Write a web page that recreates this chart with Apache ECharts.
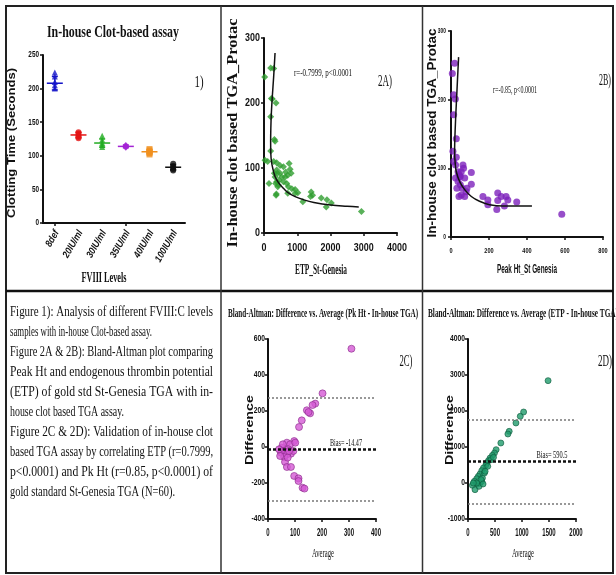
<!DOCTYPE html>
<html><head><meta charset="utf-8">
<script src="https://cdn.jsdelivr.net/npm/echarts@6/dist/echarts.min.js"></script>
<style>html,body{margin:0;padding:0;background:#fff}#c{width:616px;height:575px}</style>
</head><body><div id="c"></div>
<script>
// ---------- DATA ----------
const fviiiLevels = ['8def', '20IU/ml', '30IU/ml', '35IU/ml', '40IU/ml', '100IU/ml'];
const clot8def = [224, 218, 210, 205, 200];
const clot20 = [135, 133, 130, 128, 126];
const clot30 = [130, 124, 119, 116, 113];
const clot35 = [116, 115, 114, 113, 112];
const clot40 = [110, 108, 106, 104, 102];
const clot100 = [88, 85, 83, 80, 78];
const clotMean = [208, 131, 119, 114, 106, 83];
const clotSD = [10, 4, 6, 2, 3, 4];
const ticksY1 = [0, 50, 100, 150, 200, 250];

const etpA = [20,201,292,221,252,362,201,312,332,201,30,111,292,382,483,151,372,312,403,332,382,433,453,655,715,755,786,816,634,685,735,715,836,937,1017,1168,1420,1460,1400,1722,1893,1873,2024,2930,382,534,584,584,352,413,483,362,937];
const protA = [240,254,253,207,206,200,179,144,141,126,112,110,110,108,104,76,60,92,92,86,79,74,81,94,89,107,98,92,86,76,71,61,68,67,62,48,63,58,56,54,51,40,46,33,97,86,79,102,76,71,92,58,61];
const fitAx = [332, 290, 250, 222, 205, 200, 205, 225, 262, 332, 430, 560, 700, 937, 1200, 1500, 2000, 2500, 2850];
const fitAy = [277, 240, 210, 185, 160, 140, 122, 110, 100, 87, 78, 70, 63, 56, 51, 47, 43, 41, 40];
const ticksX2A = [0, 1000, 2000, 3000, 4000];
const ticksY2A = [0, 100, 200, 300];

const peakB = [7,19,14,23,14,28,10,14,24,37,45,54,63,66,107,37,49,59,42,54,72,84,107,168,194,194,246,264,246,290,299,281,241,346,583,31,24,49,72,28,42,80];
const protB = [238,253,207,201,178,143,125,110,105,95,88,95,105,100,94,81,76,71,59,61,59,71,77,59,54,47,64,59,53,59,54,45,40,51,33,71,86,88,86,116,91,66];
const fitBx = [40, 31, 23, 19, 22, 28, 45, 72, 107, 150, 203, 273, 342, 426];
const fitBy = [262, 211, 163, 124, 108, 95, 81, 69, 59, 52, 47, 45, 45, 45];
const ticksX2B = [0, 200, 400, 600, 800];
const ticksY2B = [0, 100, 200, 300];

const avgC = [309,202,175,165,156,144,150,125,115,97,70,82,51,57,48,63,75,85,70,60,63,70,85,97,113,113,128,135,45,55,94,41,73,101,78];
const diffC = [546,298,241,233,187,204,194,148,111,33,24,15,-4,-19,-31,-22,-13,-37,-41,-56,-83,-111,-111,-161,-174,-189,-226,-231,-50,15,-22,-13,-59,24,-22];
const biasC = -14.47, upperC = 272, lowerC = -301;
const ticksX2C = [0, 100, 200, 300, 400];
const ticksY2C = [-400, -200, 0, 200, 400, 600];

const avgD = [1483,1030,968,888,763,739,608,521,490,453,410,379,348,329,286,255,223,192,161,118,81,130,223,255,174,205,267,242,304,428,472,366,317,161,99,279];
const diffD = [2843,1972,1852,1667,1435,1361,1111,926,833,769,694,620,556,491,417,343,250,185,120,46,-65,-185,0,46,-28,-93,139,93,278,648,713,463,324,0,0,-28];
const biasD = 590.5, upperD = 1765, lowerD = -585;
const ticksX2D = [0, 500, 1000, 1500, 2000];
const ticksY2D = [-1000, 0, 1000, 2000, 3000, 4000];

const captionLines = [
  'Figure 1): Analysis of different FVIII:C levels',
  'samples with in-house Clot-based assay.',
  'Figure 2A & 2B): Bland-Altman plot comparing',
  'Peak Ht and endogenous thrombin potential',
  '(ETP) of gold std St-Genesia TGA with in-',
  'house clot based TGA assay.',
  'Figure 2C & 2D): Validation of in-house clot',
  'based TGA assay by correlating ETP (r=0.7999,',
  'p<0.0001) and Pk Ht (r=0.85, p<0.0001) of',
  'gold standard St-Genesia TGA (N=60).'
];

// ---------- STYLE / LAYOUT ----------
const SERIF = '"Liberation Serif", "DejaVu Serif", serif';
const SANS = '"Liberation Sans", Arial, sans-serif';
const clotColors = ['#1414c8', '#e41414', '#22ac22', '#a424d4', '#f0901e', '#111111'];
const clotSymbols = ['triangle', 'circle', 'triangle', 'diamond', 'rect', 'circle'];
const clotGroups = [clot8def, clot20, clot30, clot35, clot40, clot100];

const mctx = document.createElement('canvas').getContext('2d');
function txt(str, font, x, y, w, o) {
  o = o || {};
  mctx.font = font;
  const mw = mctx.measureText(str).width;
  const s = w ? w / mw : 1;
  const align = o.align || 'center';
  return { type: 'text', x: x, y: y, rotation: o.rot || 0, scaleX: s, scaleY: 1, z: 100,
    style: { text: str, font: font, fill: o.color || '#111', align: align, verticalAlign: 'middle',
             textAlign: align, textVerticalAlign: 'middle' } };
}
const ROT = Math.PI / 2;

function vAxis(gi, ticks) {
  return {
    type: 'value', gridIndex: gi, min: ticks[0], max: ticks[ticks.length - 1], interval: ticks[1] - ticks[0],
    axisLine: { show: true, onZero: false, lineStyle: { color: '#111', width: 2 } },
    axisTick: { show: true, length: 3, lineStyle: { color: '#111', width: 1.5 } },
    axisLabel: { show: false },
    splitLine: { show: false }
  };
}
// tick labels positioned through the axes' own coordinate mapping, drawn with condensed scaling
function tickSeries(gi, ticks, other, isX, o) {
  return { type: 'custom', xAxisIndex: gi, yAxisIndex: gi, silent: true, z: 10,
    data: ticks.map(function (v) { return isX ? [v, other] : [other, v]; }),
    encode: { x: 0, y: 1 },
    renderItem: function (params, api) {
      const cs = params.coordSys;
      const p = api.coord([api.value(0), api.value(1)]);
      const v = isX ? api.value(0) : api.value(1);
      const al = isX ? 'center' : 'right', va = isX ? 'top' : 'middle';
      return { type: 'text', x: isX ? p[0] : cs.x - o.margin, y: isX ? cs.y + cs.height + o.margin : p[1], scaleX: o.scale,
        style: { text: String(v), font: o.font, fill: '#111', align: al, verticalAlign: va, textAlign: al, textVerticalAlign: va } };
    } };
}

const graphics = [];
graphics.push({ type: 'rect', shape: { x: 6, y: 6, width: 607, height: 567 }, style: { fill: 'none', stroke: '#222', lineWidth: 2 }, z: 50 });
graphics.push({ type: 'line', shape: { x1: 6, y1: 291, x2: 613, y2: 291 }, style: { stroke: '#111', lineWidth: 2.5 }, z: 50 });
graphics.push({ type: 'line', shape: { x1: 221, y1: 6, x2: 221, y2: 573 }, style: { stroke: '#333', lineWidth: 1.5 }, z: 50 });
graphics.push({ type: 'line', shape: { x1: 422.5, y1: 6, x2: 422.5, y2: 573 }, style: { stroke: '#333', lineWidth: 1.5 }, z: 50 });

graphics.push(txt('In-house Clot-based assay', 'bold 17px ' + SERIF, 113, 33, 132));
graphics.push(txt('1)', '17px ' + SERIF, 199, 83, 9));
graphics.push(txt('FVIII Levels', 'bold 15px ' + SERIF, 104, 278, 45));
graphics.push(txt('Clotting Time (Seconds)', 'bold 11px ' + SANS, 12, 143, 150, { rot: ROT }));
graphics.push(txt('In-house clot based TGA_Protac', 'bold 14px ' + SERIF, 233, 133, 229, { rot: ROT }));
graphics.push(txt('r=-0.7999, p<0.0001', '11px ' + SERIF, 323, 73, 58));
graphics.push(txt('2A)', '16px ' + SERIF, 385, 82, 14));
graphics.push(txt('ETP_St-Genesia', 'bold 14px ' + SERIF, 321, 270, 52));
graphics.push(txt('In-house clot based TGA_Protac', 'bold 12px ' + SANS, 433, 133, 209, { rot: ROT }));
graphics.push(txt('r=-0.85, p<0.0001', '11px ' + SERIF, 515, 90, 44));
graphics.push(txt('2B)', '16px ' + SERIF, 605, 81, 12));
graphics.push(txt('Peak Ht_St Genesia', 'bold 13px ' + SANS, 527, 269, 60));
graphics.push(txt('Bland-Altman: Difference vs. Average (Pk Ht - In-house TGA)', 'bold 13px ' + SERIF, 323, 314, 190));
graphics.push(txt('2C)', '16px ' + SERIF, 406, 362, 13));
graphics.push(txt('Bias= -14.47', '11px ' + SERIF, 346, 443, 32));
graphics.push(txt('Difference', 'bold 11px ' + SANS, 250, 430, 70, { rot: ROT }));
graphics.push(txt('Average', '13px ' + SERIF, 323, 554, 22));
graphics.push(txt('Bland-Altman: Difference vs. Average (ETP - In-house TGA)', 'bold 13px ' + SERIF, 523, 314, 190));
graphics.push(txt('2D)', '16px ' + SERIF, 605, 362, 14));
graphics.push(txt('Bias= 590.5', '11px ' + SERIF, 552, 455, 31));
graphics.push(txt('Difference', 'bold 11px ' + SANS, 450, 430, 70, { rot: ROT }));
graphics.push(txt('Average', '13px ' + SERIF, 523, 554, 22));
const capWidths = [203, 142, 203, 203, 203, 114, 203, 203, 203, 165];
captionLines.forEach(function (l, i) {
  graphics.push(txt(l, '15.5px ' + SERIF, 10, 311.5 + 20 * i, capWidths[i], { align: 'left' }));
});

const series = [];
clotGroups.forEach(function (g, i) {
  series.push({ type: 'scatter', xAxisIndex: 0, yAxisIndex: 0, symbol: clotSymbols[i], symbolSize: 6,
    itemStyle: { color: clotColors[i] }, data: g.map(function (v) { return [fviiiLevels[i], v]; }) });
});
series.push({ type: 'custom', xAxisIndex: 0, yAxisIndex: 0,
  data: fviiiLevels.map(function (c, i) { return [i, clotMean[i], clotSD[i]]; }),
  encode: { x: 0, y: 1 },
  renderItem: function (params, api) {
    const x = api.value(0), m = api.value(1), sd = api.value(2);
    const pm = api.coord([x, m]), pt = api.coord([x, m + sd]), pb = api.coord([x, m - sd]);
    const col = clotColors[params.dataIndex];
    const st = { stroke: col, lineWidth: 1.5 };
    return { type: 'group', children: [
      { type: 'line', shape: { x1: pm[0] - 8, y1: pm[1], x2: pm[0] + 8, y2: pm[1] }, style: st },
      { type: 'line', shape: { x1: pt[0], y1: pt[1], x2: pb[0], y2: pb[1] }, style: st },
      { type: 'line', shape: { x1: pt[0] - 3, y1: pt[1], x2: pt[0] + 3, y2: pt[1] }, style: st },
      { type: 'line', shape: { x1: pb[0] - 3, y1: pb[1], x2: pb[0] + 3, y2: pb[1] }, style: st }
    ] };
  } });
series.push({ type: 'custom', xAxisIndex: 0, yAxisIndex: 0, silent: true,
  data: fviiiLevels.map(function (c, i) { return [i, 0]; }), encode: { x: 0, y: 1 },
  renderItem: function (params, api) {
    const p = api.coord([api.value(0), 0]);
    return { type: 'text', x: p[0] + 2, y: p[1] + 8, rotation: Math.PI / 3, scaleX: 0.85,
      style: { text: fviiiLevels[params.dataIndex], font: 'italic bold 10px ' + SANS, fill: '#111',
        align: 'right', verticalAlign: 'middle', textAlign: 'right', textVerticalAlign: 'middle' } };
  } });
series.push(tickSeries(0, ticksY1, 0, false, { font: 'bold 8.5px ' + SANS, scale: 0.75, margin: 4 }));

series.push({ type: 'scatter', xAxisIndex: 1, yAxisIndex: 1, symbol: 'diamond', symbolSize: 7,
  itemStyle: { color: '#2f9e2f' }, data: etpA.map(function (v, i) { return [v, protA[i]]; }) });
series.push({ type: 'line', xAxisIndex: 1, yAxisIndex: 1, showSymbol: false, smooth: 0.4,
  lineStyle: { color: '#111', width: 1.5 }, data: fitAx.map(function (v, i) { return [v, fitAy[i]]; }) });
series.push(tickSeries(1, ticksX2A, 0, true, { font: 'bold 10.5px ' + SANS, scale: 0.85, margin: 10 }));
series.push(tickSeries(1, ticksY2A, 0, false, { font: 'bold 10.5px ' + SANS, scale: 0.85, margin: 4 }));

series.push({ type: 'scatter', xAxisIndex: 2, yAxisIndex: 2, symbol: 'circle', symbolSize: 7,
  itemStyle: { color: '#7d22bb' }, data: peakB.map(function (v, i) { return [v, protB[i]]; }) });
series.push({ type: 'line', xAxisIndex: 2, yAxisIndex: 2, showSymbol: false, smooth: 0.4,
  lineStyle: { color: '#111', width: 1.5 }, data: fitBx.map(function (v, i) { return [v, fitBy[i]]; }) });
series.push(tickSeries(2, ticksX2B, 0, true, { font: 'bold 8px ' + SANS, scale: 0.7, margin: 10 }));
series.push(tickSeries(2, ticksY2B, 0, false, { font: 'bold 7px ' + SANS, scale: 0.7, margin: 5 }));

function baLines(bias, up, lo) {
  return { symbol: 'none', silent: true, label: { show: false }, animation: false,
    data: [
      { yAxis: up, lineStyle: { type: [2, 2], color: '#777', width: 1.5 } },
      { yAxis: lo, lineStyle: { type: [2, 2], color: '#777', width: 1.5 } },
      { yAxis: bias, lineStyle: { type: [3, 2], color: '#111', width: 2.5 } }
    ] };
}
series.push({ type: 'scatter', xAxisIndex: 3, yAxisIndex: 3, symbol: 'circle', symbolSize: 7,
  itemStyle: { color: '#d45ad4', borderColor: '#8a2a8a', borderWidth: 0.8 },
  data: avgC.map(function (v, i) { return [v, diffC[i]]; }), markLine: baLines(biasC, upperC, lowerC) });
series.push(tickSeries(3, ticksX2C, ticksY2C[0], true, { font: 'bold 10px ' + SANS, scale: 0.6, margin: 9 }));
series.push(tickSeries(3, ticksY2C, 0, false, { font: 'bold 9px ' + SANS, scale: 0.75, margin: 3 }));

series.push({ type: 'scatter', xAxisIndex: 4, yAxisIndex: 4, symbol: 'circle', symbolSize: 6,
  itemStyle: { color: '#1f9b6c', borderColor: '#0d5a3c', borderWidth: 0.8 },
  data: avgD.map(function (v, i) { return [v, diffD[i]]; }), markLine: baLines(biasD, upperD, lowerD) });
series.push(tickSeries(4, ticksX2D, ticksY2D[0], true, { font: 'bold 10px ' + SANS, scale: 0.6, margin: 9 }));
series.push(tickSeries(4, ticksY2D, 0, false, { font: 'bold 9px ' + SANS, scale: 0.75, margin: 3 }));

const g = function (l, t, w, h) { return { left: l, top: t, width: w, height: h, containLabel: false, outerBoundsMode: 'none' }; };

const option = {
  animation: false,
  backgroundColor: '#fff',
  grid: [g(43, 55, 142, 168), g(264, 38, 133, 195), g(451, 31, 152, 206), g(268, 339, 108, 180), g(468, 339, 108, 180)],
  xAxis: [
    { type: 'category', gridIndex: 0, data: fviiiLevels,
      axisLine: { show: true, lineStyle: { color: '#111', width: 2 } },
      axisTick: { show: true, alignWithLabel: true, length: 3, lineStyle: { color: '#111', width: 1.5 } },
      axisLabel: { show: false } },
    vAxis(1, ticksX2A), vAxis(2, ticksX2B), vAxis(3, ticksX2C), vAxis(4, ticksX2D)
  ],
  yAxis: [vAxis(0, ticksY1), vAxis(1, ticksY2A), vAxis(2, ticksY2B), vAxis(3, ticksY2C), vAxis(4, ticksY2D)],
  graphic: graphics,
  series: series
};
const chart = echarts.init(document.getElementById('c'), null, { renderer: 'canvas' });
chart.setOption(option);
</script>
</body></html>
